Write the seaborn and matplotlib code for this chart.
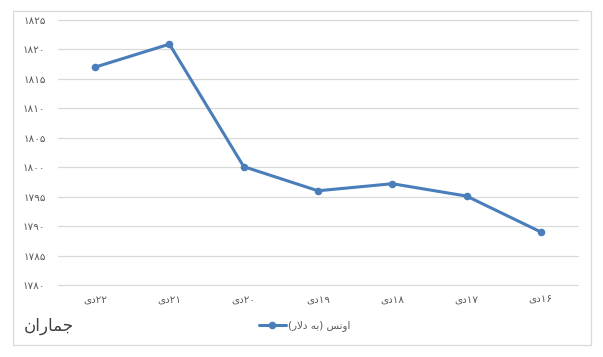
import matplotlib
matplotlib.use("Agg")
import matplotlib.pyplot as plt
import seaborn as sns
from matplotlib.patches import Rectangle

sns.set_style("white")
plt.rcParams['font.family'] = ['DejaVu Sans']

# Arabic-script text is stored in visual (left-to-right, pre-shaped) order,
# since matplotlib does no bidi/shaping of its own.
DEY = "\uFEEF\uFEA9"  # "دی"
day_numbers = ["۲۲", "۲۱", "۲۰", "۱۹", "۱۸", "۱۷", "۱۶"]
days = [DEY + d for d in day_numbers]
prices = [1817.0, 1820.9, 1800.1, 1796.0, 1797.2, 1795.1, 1789.0]
y_ticks = [1780, 1785, 1790, 1795, 1800, 1805, 1810, 1815, 1820, 1825]

series_label = "(\uFEAD\uFEFB\uFEA9 \uFEEA\uFE91) \uFEB2\uFEE7\uFEED\uFE8D"  # "اونس (به دلار)"
source_label = "\uFEE5\uFE8D\uFEAD\uFE8E\uFEE4\uFE9F"  # "جماران"

line_color = "#4a7ebb"
text_color = "#595959"
grid_color = "#d9d9d9"

fa_digits = str.maketrans("0123456789", "۰۱۲۳۴۵۶۷۸۹")

fig = plt.figure(figsize=(6.03, 3.57), dpi=100)
ax = fig.add_axes([58 / 603, 72 / 357, 520 / 603, 265 / 357])

sns.pointplot(x=days, y=prices, color=line_color, markers="o",
              markersize=3.8, linewidth=2.2, ax=ax)

ax.set_ylim(y_ticks[0], y_ticks[-1])
ax.set_xlim(-0.5, len(days) - 0.5)
ax.set_yticks(y_ticks)
ax.set_yticklabels([str(v).translate(fa_digits) for v in y_ticks])
ax.set_xlabel("")
ax.set_ylabel("")
ax.grid(axis="y", color=grid_color, linewidth=0.9)
ax.set_axisbelow(True)
for gl in ax.get_ygridlines():
    gl.set_clip_on(False)
for s in ax.spines.values():
    s.set_visible(False)
ax.tick_params(axis="y", length=0, pad=9, labelsize=7.5, labelcolor=text_color)
ax.tick_params(axis="x", length=0, pad=7, labelsize=7.5, labelcolor=text_color)

# legend below the plot
handle = ax.lines[0]
handle.set_label(series_label)
fig.legend(handles=[handle], loc="center", bbox_to_anchor=(0.505, 0.087),
           frameon=False, fontsize=7.5, handlelength=2.6, handletextpad=0.2,
           labelcolor=text_color)

fig.text(0.04, 0.087, source_label, ha="left", va="center",
         fontsize=12, color="#404040")

# outer chart border
fig.patches.append(Rectangle((13 / 603, 12 / 357), 578 / 603, 334 / 357,
                             transform=fig.transFigure, fill=False,
                             edgecolor=grid_color, linewidth=0.9))

plt.savefig("out.png", dpi=100)
